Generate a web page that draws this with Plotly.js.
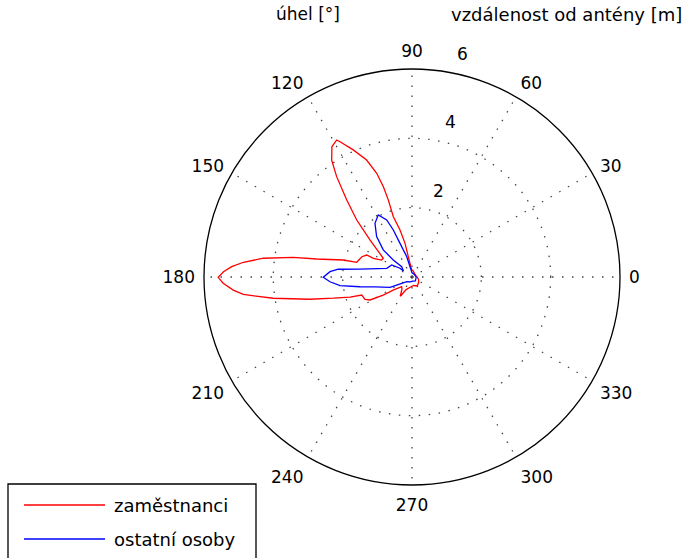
<!DOCTYPE html>
<html>
<head>
<meta charset="utf-8">
<script src="https://cdn.plot.ly/plotly-3.0.1.min.js"></script>
<style>html,body{margin:0;padding:0;background:#fff;}#chart{width:688px;height:558px;}</style>
</head>
<body>
<div id="chart"></div>
<script>
// Series names
var seriesNames = ["zaměstnanci", "ostatní osoby"];

// Red series: zaměstnanci (angle in degrees, distance in m)
var redTheta = [0, 20, 45, 70, 85, 92.5, 100.3, 101.7, 104.3, 107.2, 107.1, 107.6, 108.8, 111.2, 114.8, 118.0, 118.8, 121.6, 124.5, 126.9, 130.3, 134.1, 138.6, 146.9, 150.7, 154.2, 154.1, 158.0, 165.1, 166.1, 169.3, 170.6, 172.8, 175.0, 176.7, 178.4, 180.1, 181.9, 184.2, 185.9, 188.7, 192.3, 195.1, 197.9, 199.7, 205.4, 208.7, 212.1, 214.8, 223.3, 230, 238.6, 245, 260, 280, 300, 320, 340, 360];
var redR = [0.15, 0.12, 0.12, 0.15, 0.2, 0.2, 0.59, 0.99, 1.40, 1.82, 2.32, 2.73, 3.16, 3.62, 4.04, 4.42, 4.51, 4.41, 4.09, 3.62, 2.91, 2.29, 1.61, 0.99, 1.0, 1.24, 1.45, 1.56, 1.65, 2.04, 2.80, 3.47, 4.32, 4.88, 5.21, 5.44, 5.59, 5.45, 5.17, 4.89, 4.05, 3.01, 2.35, 1.88, 1.54, 1.50, 1.38, 0.98, 0.66, 0.41, 0.45, 0.65, 0.4, 0.3, 0.25, 0.3, 0.25, 0.2, 0.15];

// Blue series: ostatní osoby
var blueTheta = [0, 30, 60, 90, 101, 104.6, 109.6, 111.7, 113.9, 118.5, 124.6, 131.2, 136.7, 137.7, 135, 145.4, 144, 149.4, 161, 171.3, 174.0, 176.3, 180.2, 183.3, 186.9, 190.6, 195.1, 205.1, 207.6, 221.6, 250, 280, 310, 340, 360];
var blueR = [0.12, 0.1, 0.1, 0.12, 0.30, 0.61, 1.03, 1.46, 1.80, 2.04, 1.88, 1.55, 1.14, 0.73, 0.42, 0.30, 0.43, 0.68, 0.77, 1.52, 2.14, 2.37, 2.56, 2.37, 2.09, 1.53, 1.10, 0.70, 0.50, 0.20, 0.15, 0.12, 0.15, 0.12, 0.12];

// Axis ticks
var angleTicks = [0, 30, 60, 90, 120, 150, 180, 210, 240, 270, 300, 330];
var angleTickText = ["0", "30", "60", "90", "120", "150", "180", "210", "240", "270", "300", "330"];
var radialTicks = [2, 4, 6];
var radialTickText = ["2", "4", "6"];

var titleAngle = "úhel [°]";
var titleRadial = "vzdálenost od antény [m]";

var FONT = "DejaVu Sans, Arial, sans-serif";
var W = 688, H = 558;
function px(x) { return x / W; }
function py(y) { return 1 - y / H; }

var traces = [
  {type: "scatterpolar", mode: "lines", name: seriesNames[0], theta: redTheta, r: redR,
   line: {color: "rgb(255,0,0)", width: 1.3}, showlegend: false},
  {type: "scatterpolar", mode: "lines", name: seriesNames[1], theta: blueTheta, r: blueR,
   line: {color: "rgb(0,0,255)", width: 1.3}, showlegend: false}
];

var gridStyle = {gridcolor: "#444", gridwidth: 1.3, griddash: "1.5px,8.5px"};

var layout = {
  width: W, height: H,
  margin: {l: 0, r: 0, t: 0, b: 0},
  paper_bgcolor: "#fff",
  showlegend: false,
  font: {family: FONT, size: 17, color: "#000"},
  polar: {
    domain: {x: [px(204), px(620)], y: [py(485), py(69)]},
    bgcolor: "#fff",
    angularaxis: Object.assign({
      rotation: 0, direction: "counterclockwise",
      tickmode: "array", tickvals: angleTicks, ticktext: angleTickText,
      showline: true, linecolor: "#000", linewidth: 1.3,
      ticks: "outside", ticklen: 5, tickcolor: "rgba(0,0,0,0)",
      tickfont: {family: FONT, size: 17, color: "#000"}
    }, gridStyle),
    radialaxis: Object.assign({
      range: [0, 6], angle: 80, side: "clockwise",
      tickmode: "array", tickvals: radialTicks,
      ticktext: radialTickText.map(function (t) { return t + "<br>&nbsp;<br>&nbsp;"; }),
      showline: false, ticks: "", tickangle: 80,
      tickfont: {family: FONT, size: 17, color: "#000"}
    }, gridStyle)
  },
  annotations: [
    {xref: "paper", yref: "paper", x: px(308), y: py(14), text: titleAngle, showarrow: false,
     xanchor: "center", yanchor: "middle", font: {family: FONT, size: 17, color: "#000"}},
    {xref: "paper", yref: "paper", x: px(566), y: py(14), text: titleRadial, showarrow: false,
     xanchor: "center", yanchor: "middle", font: {family: FONT, size: 18, color: "#000"}},
    {xref: "paper", yref: "paper", x: px(112), y: py(505), text: seriesNames[0], showarrow: false,
     xanchor: "left", yanchor: "middle", font: {family: FONT, size: 18, color: "#000"}},
    {xref: "paper", yref: "paper", x: px(112), y: py(539), text: seriesNames[1], showarrow: false,
     xanchor: "left", yanchor: "middle", font: {family: FONT, size: 18, color: "#000"}}
  ],
  shapes: [
    {type: "rect", xref: "paper", yref: "paper", x0: px(8), x1: px(256), y0: py(484), y1: py(600),
     line: {color: "#000", width: 1.3}, fillcolor: "rgba(0,0,0,0)"},
    {type: "line", xref: "paper", yref: "paper", x0: px(24), x1: px(105), y0: py(505), y1: py(505),
     line: {color: "rgb(255,0,0)", width: 1.3}},
    {type: "line", xref: "paper", yref: "paper", x0: px(24), x1: px(105), y0: py(539), y1: py(539),
     line: {color: "rgb(0,0,255)", width: 1.3}}
  ]
};

Plotly.newPlot("chart", traces, layout, {staticPlot: true, displayModeBar: false});
</script>
</body>
</html>
